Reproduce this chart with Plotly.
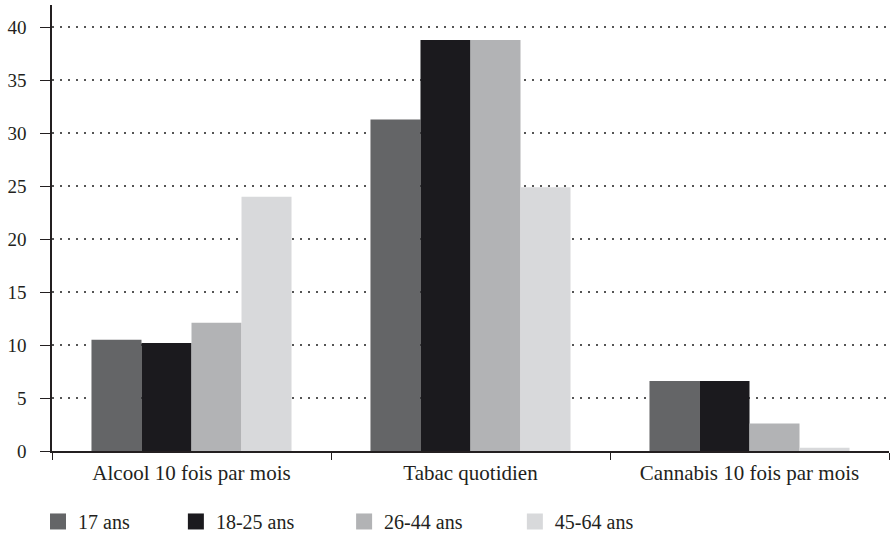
import plotly.graph_objects as go

categories = ["Alcool 10 fois par mois", "Tabac quotidien", "Cannabis 10 fois par mois"]
series_names = ["17 ans", "18-25 ans", "26-44 ans", "45-64 ans"]
v_17 = [10.5, 31.3, 6.6]
v_18_25 = [10.2, 38.8, 6.6]
v_26_44 = [12.1, 38.8, 2.6]
v_45_64 = [24.0, 24.9, 0.3]
y_ticks = [0, 5, 10, 15, 20, 25, 30, 35, 40]

series_values = [v_17, v_18_25, v_26_44, v_45_64]
colors = ["#646567", "#1b1a1e", "#b2b3b5", "#d8d9db"]
legend_ids = ["legend", "legend2", "legend3", "legend4"]
legend_x = [-0.0167, 0.148, 0.349, 0.553]

FONT = "Liberation Serif"
TXT = "#231f20"

fig = go.Figure()
for name, vals, col in zip(series_names, series_values, colors):
    fig.add_trace(go.Bar(x=categories, y=vals, name=name, marker_color=col,
                         marker_line_width=0, showlegend=False, hoverinfo="skip"))
for name, col, lid in zip(series_names, colors, legend_ids):
    fig.add_trace(go.Scatter(x=[None], y=[None], mode="markers", name=name,
                             marker=dict(symbol="square", size=16, color=col),
                             legend=lid, showlegend=True))

layout_legends = {}
for lid, lx in zip(legend_ids, legend_x):
    layout_legends[lid] = dict(x=lx, y=-0.158, xanchor="left", yanchor="middle",
                               orientation="h", bgcolor="rgba(0,0,0,0)",
                               font=dict(family=FONT, size=20, color=TXT),
                               itemwidth=30, borderwidth=0)

fig.update_layout(
    width=894, height=533,
    margin=dict(l=52, r=5, t=5, b=82, autoexpand=False),
    paper_bgcolor="white", plot_bgcolor="white",
    barmode="group", bargap=0.283, bargroupgap=0,
    font=dict(family=FONT, color=TXT),
    **layout_legends,
)
fig.update_xaxes(
    type="category", showline=True, linecolor="#231f20", linewidth=1.5,
    ticks="outside", tickson="boundaries", ticklen=7, tickcolor="#231f20", tickwidth=1.2,
    ticklabelstandoff=2, automargin=False,
    showgrid=False, tickfont=dict(family=FONT, size=21, color=TXT),
)
fig.update_yaxes(
    range=[0, 42.1], tickvals=y_ticks, showline=True, linecolor="#231f20", linewidth=1.5,
    ticks="outside", ticklen=10, tickcolor="#231f20", tickwidth=1.2,
    ticklabelstandoff=10, automargin=False,
    showgrid=True, gridcolor="#555555", gridwidth=2, griddash="2px,6px",
    zeroline=False, tickfont=dict(family=FONT, size=19, color=TXT),
)
fig.write_html("out.html", config={"displayModeBar": False},
               post_script="document.body.style.margin='0';document.body.style.overflow='hidden';")
